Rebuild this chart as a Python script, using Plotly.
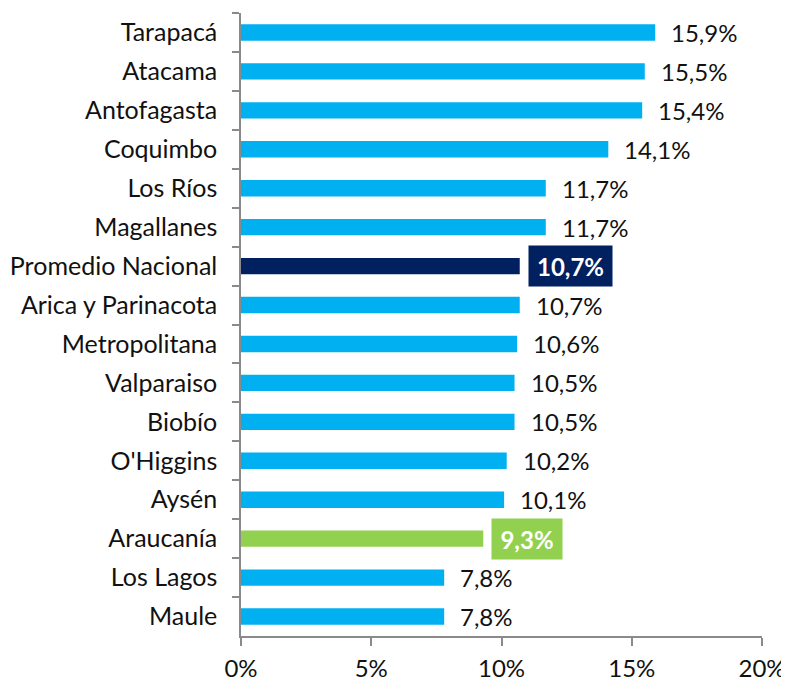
import plotly.graph_objects as go

regions = ["Tarapacá", "Atacama", "Antofagasta", "Coquimbo", "Los Ríos", "Magallanes",
           "Promedio Nacional", "Arica y Parinacota", "Metropolitana", "Valparaiso",
           "Biobío", "O'Higgins", "Aysén", "Araucanía", "Los Lagos", "Maule"]
values = [15.9, 15.5, 15.4, 14.1, 11.7, 11.7, 10.7, 10.7, 10.6, 10.5, 10.5, 10.2, 10.1, 9.3, 7.8, 7.8]
x_ticks = [0, 5, 10, 15, 20]

BLUE = "#00B0F0"
NAVY = "#002060"
GREEN = "#92D050"
highlight = {"Promedio Nacional": NAVY, "Araucanía": GREEN}
colors = [highlight.get(r, BLUE) for r in regions]

FONT = "Lato"
FS = 24
TXT = "#111111"
AX = "#8a8a8a"

fig = go.Figure(go.Bar(
    y=regions, x=values, orientation="h",
    marker=dict(color=colors, line=dict(width=0)),
    width=0.42, hoverinfo="skip",
))

def fmt(v):
    return f"{v:.1f}".replace(".", ",") + "%"

for r, v in zip(regions, values):
    if r in highlight:
        fig.add_annotation(
            x=v, y=r, xref="x", yref="y", text="<b>" + fmt(v) + "</b>",
            showarrow=False, xanchor="left", xshift=8,
            font=dict(family=FONT, size=FS, color="white"),
            bgcolor=highlight[r], borderpad=4,
            width=75 if len(fmt(v)) > 4 else 62, height=32, align="center",
        )
    else:
        fig.add_annotation(
            x=v, y=r, xref="x", yref="y", text=fmt(v),
            showarrow=False, xanchor="left", xshift=14,
            font=dict(family=FONT, size=FS, color=TXT),
        )

fig.update_layout(
    width=781, height=676,
    margin=dict(l=233, r=27, t=5, b=48),
    paper_bgcolor="white", plot_bgcolor="white",
    showlegend=False,
    font=dict(family=FONT, size=FS, color=TXT),
)
fig.update_xaxes(
    range=[0, 20], tickvals=x_ticks, ticktext=[f"{t}%" for t in x_ticks],
    showgrid=False, zeroline=False, showline=True, linecolor=AX, linewidth=1.5,
    ticks="outside", ticklen=8, tickcolor=AX, tickwidth=1.5,
    tickfont=dict(family=FONT, size=FS, color=TXT), ticklabelstandoff=2,
    automargin=False,
)
fig.update_yaxes(
    autorange="reversed", showgrid=False, zeroline=False,
    showline=True, linecolor=AX, linewidth=1.5,
    ticks="outside", ticklen=7, tickcolor=AX, tickwidth=1.5, tickson="boundaries",
    tickfont=dict(family=FONT, size=25, color=TXT), ticklabelstandoff=17,
    automargin=False,
)

fig.write_html("out.html")
